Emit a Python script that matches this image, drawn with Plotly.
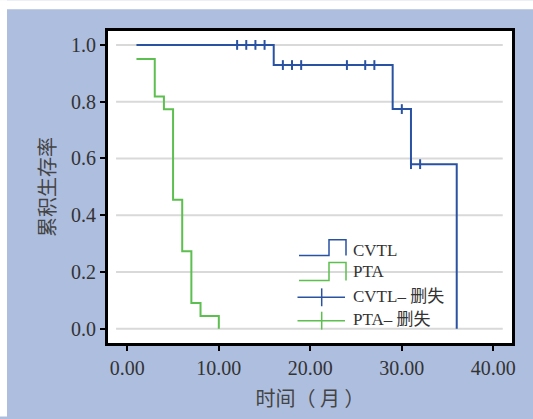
import plotly.graph_objects as go

# ---------------- data ----------------
cvtl_time = [1, 16, 29, 31, 36]
cvtl_surv = [1.0, 0.929, 0.774, 0.58, 0.0]

pta_time = [1, 3, 4, 5, 6, 7, 8, 10]
pta_surv = [0.95, 0.818, 0.773, 0.455, 0.273, 0.091, 0.045, 0.0]

cvtl_cens_time = [12, 13, 14, 15, 17, 18, 19, 24, 26, 27, 30, 31, 32]
cvtl_cens_surv = [1.0, 1.0, 1.0, 1.0, 0.929, 0.929, 0.929, 0.929, 0.929, 0.929, 0.774, 0.58, 0.58]

y_ticks = [0.0, 0.2, 0.4, 0.6, 0.8, 1.0]
x_ticks = [0, 10, 20, 30, 40]

legend_labels = ["CVTL", "PTA", "CVTL– 删失", "PTA– 删失"]

# ---------------- style ----------------
W, H = 533, 419
ML, MR, MT, MB = 107, 20, 30, 73
BLUE = "#2a52a2"
GREEN = "#5cbf4f"
PANEL = "#aebedf"
TXT = "#333333"
FONT = "Liberation Serif, Noto Sans CJK SC, serif"


def px(x):
    """page pixel x -> paper coordinate"""
    return (x - ML) / (W - ML - MR)


def py(y):
    """page pixel y -> paper coordinate"""
    return (H - MB - y) / (H - MT - MB)


fig = go.Figure()

fig.add_trace(go.Scatter(x=cvtl_time, y=cvtl_surv, mode="lines", line_shape="hv",
                         line=dict(color=BLUE, width=2), name=legend_labels[0], showlegend=False))
fig.add_trace(go.Scatter(x=pta_time, y=pta_surv, mode="lines", line_shape="hv",
                         line=dict(color=GREEN, width=2), name=legend_labels[1], showlegend=False))
fig.add_trace(go.Scatter(x=cvtl_cens_time, y=cvtl_cens_surv, mode="markers",
                         marker=dict(symbol="line-ns", size=7, line=dict(color=BLUE, width=2)),
                         name=legend_labels[2], showlegend=False))

shapes = []
# white page strips outside the blue panel (in the margins only)
shapes.append(dict(type="rect", xref="paper", yref="paper", x0=px(0), x1=px(W), y0=py(9), y1=py(0),
                   fillcolor="white", line=dict(width=0), layer="below"))
shapes.append(dict(type="rect", xref="paper", yref="paper", x0=px(0), x1=px(7), y0=py(H), y1=py(0),
                   fillcolor="white", line=dict(width=0), layer="below"))
# horizontal gridlines
for t in y_ticks:
    shapes.append(dict(type="line", xref="x", yref="y", x0=-1.23, x1=41.03, y0=t, y1=t,
                       line=dict(color="#d9d9d9", width=2), layer="below"))
# plot frame
shapes.append(dict(type="rect", xref="paper", yref="paper", x0=0, x1=1, y0=0, y1=1,
                   line=dict(color="black", width=2)))

# legend icons (page pixel positions)
steps = [(257, 241, BLUE), (282, 264, GREEN)]
for low, high, col in steps:
    path = (f"M {px(299)},{py(low)} L {px(329)},{py(low)} L {px(329)},{py(high)} "
            f"L {px(346)},{py(high)} L {px(346)},{py(low)}")
    shapes.append(dict(type="path", xref="paper", yref="paper", path=path,
                       line=dict(color=col, width=1.5)))
cens = [(299, BLUE), (322.5, GREEN)]
for yc, col in cens:
    shapes.append(dict(type="line", xref="paper", yref="paper", x0=px(297.5), x1=px(345),
                       y0=py(yc), y1=py(yc), line=dict(color=col, width=1.5)))
    shapes.append(dict(type="line", xref="paper", yref="paper", x0=px(321.7), x1=px(321.7),
                       y0=py(yc - 9), y1=py(yc + 9), line=dict(color=col, width=1.5)))

annotations = []
for lbl, yc in zip(legend_labels, [251.5, 273.5, 298, 321]):
    annotations.append(dict(text=lbl, xref="paper", yref="paper", x=px(351), y=py(yc),
                            xanchor="left", yanchor="middle", showarrow=False,
                            font=dict(family=FONT, size=17, color=TXT)))

fig.update_layout(
    width=W, height=H,
    margin=dict(l=ML, r=MR, t=MT, b=MB),
    paper_bgcolor=PANEL, plot_bgcolor="white",
    shapes=shapes, annotations=annotations,
    font=dict(family=FONT, size=20, color=TXT),
    showlegend=False,
)
fig.update_xaxes(range=[-2.22, 42.15], tickvals=x_ticks, tickformat=".2f",
                 showgrid=False, zeroline=False,
                 showline=True, mirror=True, linecolor="black", linewidth=2,
                 ticks="outside", ticklen=5, tickwidth=2, tickcolor="black",
                 tickfont=dict(family=FONT, size=20, color=TXT),
                 title=dict(text="时间（ 月 ）", standoff=14,
                            font=dict(family="Noto Sans CJK SC", size=20, color="#444444")))
fig.update_yaxes(range=[-0.0535, 1.0525], tickvals=y_ticks, tickformat=".1f",
                 showgrid=False, zeroline=False,
                 showline=True, mirror=True, linecolor="black", linewidth=2,
                 ticks="outside", ticklen=5, tickwidth=2, tickcolor="black",
                 tickfont=dict(family=FONT, size=20, color=TXT),
                 title=dict(text="累积生存率", standoff=10,
                            font=dict(family="Noto Sans CJK SC", size=20, color="#444444")))

fig.write_html("out.html",
               config={"displayModeBar": False},
               post_script="document.body.style.margin='0';document.body.style.overflow='hidden';")
